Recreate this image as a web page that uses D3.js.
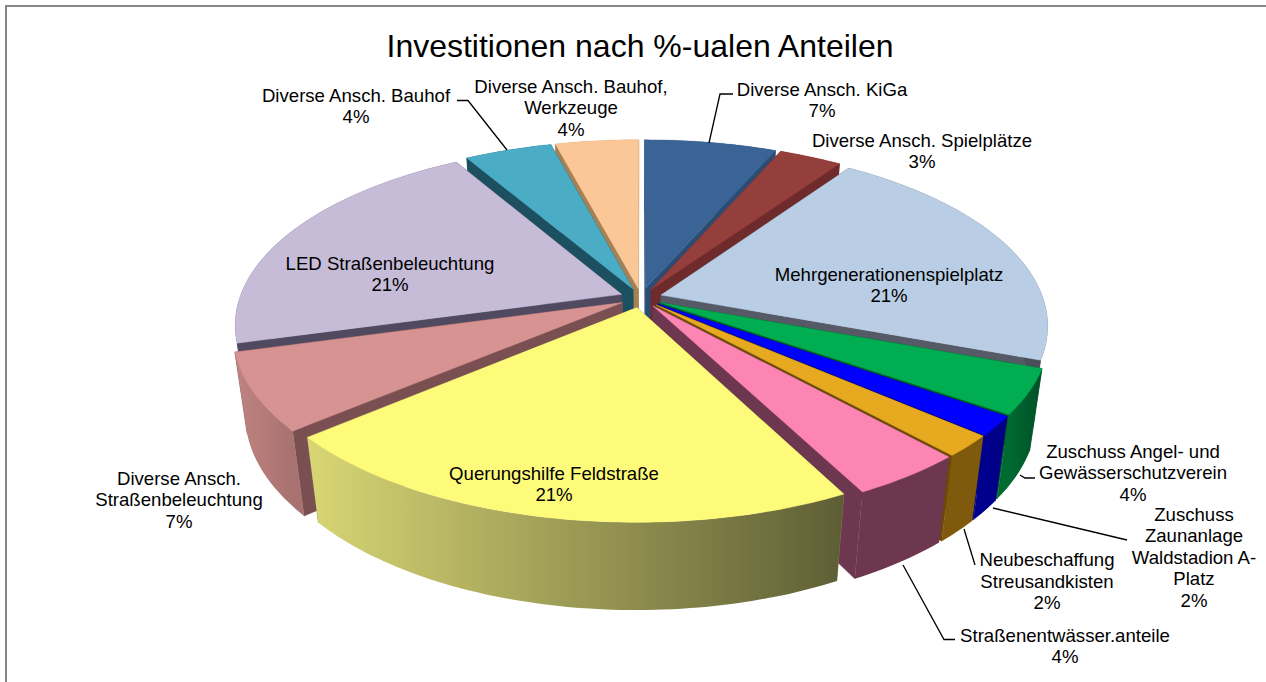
<!DOCTYPE html>
<html><head><meta charset="utf-8">
<script src="https://cdn.jsdelivr.net/npm/d3@7/dist/d3.min.js"></script>
<style>html,body{margin:0;padding:0;background:#fff}svg{display:block}text{font-family:"Liberation Sans",Arial,sans-serif;fill:#000}</style>
</head><body><svg id="c" width="1266" height="682"></svg>
<script>
const title = "Investitionen nach %-ualen Anteilen";
const categories = ["Diverse Ansch. KiGa","Diverse Ansch. Spielplätze","Mehrgenerationenspielplatz","Zuschuss Angel- und Gewässerschutzverein","Zuschuss Zaunanlage Waldstadion A-Platz","Neubeschaffung Streusandkisten","Straßenentwässer.anteile","Querungshilfe Feldstraße","Diverse Ansch. Straßenbeleuchtung","LED Straßenbeleuchtung","Diverse Ansch. Bauhof","Diverse Ansch. Bauhof, Werkzeuge"];
const values = [6.5,3.1,21.1,4.0,1.7,1.9,4.1,21.4,6.9,20.9,4.3,4.1];
const labelLines = [["Diverse Ansch. KiGa"],["Diverse Ansch. Spielplätze"],["Mehrgenerationenspielplatz"],["Zuschuss Angel- und","Gewässerschutzverein"],["Zuschuss","Zaunanlage","Waldstadion A-","Platz"],["Neubeschaffung","Streusandkisten"],["Straßenentwässer.anteile"],["Querungshilfe Feldstraße"],["Diverse Ansch.","Straßenbeleuchtung"],["LED Straßenbeleuchtung"],["Diverse Ansch. Bauhof"],["Diverse Ansch. Bauhof,","Werkzeuge"]];
const topColors = ["#3A6496","#953F3D","#B9CDE5","#00AD50","#0000FF","#E6A91F","#FC85B3","#FFFB7A","#D69391","#C6BCD8","#4BACC6","#FBC796"];
const wallLeft = ["#2C4C74","#6F2B2B","#555A66","#006A33","#00008F","#7F5A0C","#6E3750","#D8D674","#C08482","#4F4A60","#1C5060","#A58256"];
const wallRight = ["#2C4C74","#6F2B2B","#4A4E58","#004F26","#00007F","#7F5A0C","#6E3750","#5E5E36","#A87270","#4F4A60","#1C5060","#A58256"];
const radialColors = ["#2C4C74","#6F2B2B","#555A66","#005A2A","#00008B","#6B4A08","#6E3750","#8A8850","#7A4F52","#4F4A60","#1C5060","#A58256"];
// label centres and line tops
const labelX = [822,922,889,1133,1194,1047,1065,554,179,390,356,571];
const labelY = [89,140,274,451,514,559.5,635,473,478,263,95,86];
const leaders = [[[709,143],[720,94],[733,94]],null,null,[[1020,475],[1025,478],[1035,478]],[[993,508],[1127,540]],[[964,529],[975,565]],[[903,565],[944,639.5],[955,639.5]],null,null,null,[[507,150],[468,100.5],[457,100.5]],null];

const cx=641, cy=298, R=382, Rq=176, persp=0.164, shrink=0.03, H=82, explode=0.055;
const xScale=d3.scaleLinear().domain([-1,1]).range([cx-R,cx+R]);
const yScale=d3.scaleLinear().domain([-1,1]).range([cy-Rq,cy+Rq]);
function project(u,v,bottom){
  const w=1-persp*v+(bottom?shrink:0);
  return [xScale(u/w), yScale((v+(bottom?H/Rq:0))/w)];
}
const svg=d3.select("#c");
const defs=svg.append("defs");
svg.append("rect").attr("x",6).attr("y",6).attr("width",1300).attr("height",720).attr("fill","#fff").attr("stroke","#868686").attr("stroke-width",2);
const line=d3.line();
const arcs=d3.pie().sort(null).value(d=>d).startAngle(0).endAngle(2*Math.PI)(values);
const slices=arcs.map((a,i)=>{
  const mid=(a.startAngle+a.endAngle)/2;
  const ou=explode*Math.sin(mid), ov=-explode*Math.cos(mid);
  const n=Math.max(4,Math.ceil((a.endAngle-a.startAngle)/0.02));
  const ang=d3.range(n+1).map(k=>a.startAngle+(a.endAngle-a.startAngle)*k/n);
  const rim=ang.map(t=>[ou+Math.sin(t),ov-Math.cos(t)]);
  return {i,mid,ou,ov,rim,depth:ov-Math.cos(mid)};
}).sort((x,y)=>x.depth-y.depth);
const g=svg.append("g");
slices.forEach(s=>{
  const top=s.rim.map(p=>project(p[0],p[1],false));
  const bot=s.rim.map(p=>project(p[0],p[1],true));
  const aT=project(s.ou,s.ov,false), aB=project(s.ou,s.ov,true);
  const gid="w"+s.i;
  const lg=defs.append("linearGradient").attr("id",gid).attr("gradientUnits","userSpaceOnUse")
    .attr("x1",d3.min(top,d=>d[0])).attr("x2",d3.max(top,d=>d[0])).attr("y1",0).attr("y2",0);
  lg.append("stop").attr("offset",0).attr("stop-color",wallLeft[s.i]);
  lg.append("stop").attr("offset",1).attr("stop-color",wallRight[s.i]);
  const c=radialColors[s.i];
  [[aT,top[0],bot[0],aB],[aT,top[top.length-1],bot[bot.length-1],aB]].forEach(q=>{
    g.append("path").attr("d",line(q)+"Z").attr("fill",c).attr("stroke",c).attr("stroke-width",.5);
  });
  g.append("path").attr("d",line(top.concat(bot.slice().reverse()))+"Z").attr("fill",`url(#${gid})`);
  g.append("path").attr("d",line([aT].concat(top))+"Z").attr("fill",topColors[s.i]).attr("stroke",topColors[s.i]).attr("stroke-width",.4);
});
svg.append("text").attr("x",640).attr("y",57).attr("text-anchor","middle").attr("font-size",32).text(title);
const lg2=svg.append("g").attr("fill","none").attr("stroke","#000").attr("stroke-width",1.3);
leaders.forEach(l=>{ if(l) lg2.append("path").attr("d",line(l)); });
const lineH=21.5, fs=18.6;
categories.forEach((c,i)=>{
  const lines=labelLines[i].concat([Math.round(values[i])+"%"]);
  lines.forEach((t,k)=>{
    svg.append("text").attr("x",labelX[i]).attr("y",labelY[i]+k*lineH+6.5).attr("text-anchor","middle").attr("font-size",fs).text(t);
  });
});
</script></body></html>
